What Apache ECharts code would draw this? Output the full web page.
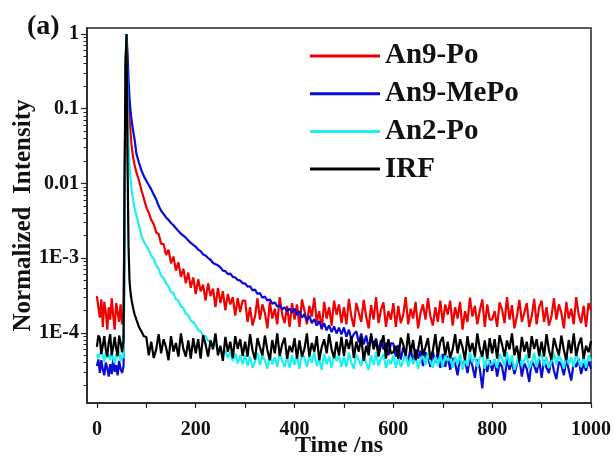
<!DOCTYPE html>
<html>
<head>
<meta charset="utf-8">
<script src="https://cdn.jsdelivr.net/npm/echarts@6/dist/echarts.min.js"></script>
<style>html,body{margin:0;padding:0;background:#fff;}#c{width:614px;height:457px;}</style>
</head>
<body>
<div id="c"></div>
<script>
// ---- data: time (ns) and normalized intensity per sample ----
const timeNs = [
  0,3,6,9,12,15,18,21,24,27,30,33,36,39,42,45,48,51,54,
  56,58,60,62,64,66,68,70,73,76,80,85,90,95,
  100,105,110,115,120,125,130,135,140,145,150,155,160,165,170,175,180,185,190,195,
  200,205,210,215,220,225,230,235,240,245,250,255,260,265,270,275,280,285,290,295,
  300,305,310,315,320,325,330,335,340,345,350,355,360,365,370,375,380,385,390,395,
  400,405,410,415,420,425,430,435,440,445,450,455,460,465,470,475,480,485,490,495,
  500,505,510,515,520,525,530,535,540,545,550,555,560,565,570,575,580,585,590,595,
  600,605,610,615,620,625,630,635,640,645,650,655,660,665,670,675,680,685,690,695,
  700,705,710,715,720,725,730,735,740,745,750,755,760,765,770,775,780,785,790,795,
  800,805,810,815,820,825,830,835,840,845,850,855,860,865,870,875,880,885,890,895,
  900,905,910,915,920,925,930,935,940,945,950,955,960,965,970,975,980,985,990,995,
  1000
];
const an9Po = [
  3.1e-4,2.2e-4,1.6e-4,2.8e-4,1.2e-4,2.6e-4,1.9e-4,1.1e-4,2.2e-4,1.5e-4,2.9e-4,1.7e-4,1.1e-4,2.5e-4,1.9e-4,1.4e-4,2.4e-4,1.3e-4,1.8e-4,
  4e-3,0.35,0.97,0.3,0.12,0.07,0.05,0.033,0.023,0.018,0.014,0.011,0.0082,0.0063,
  4.8e-3,4.05e-3,3.25e-3,2.85e-3,2.2e-3,2.1e-3,1.55e-3,1.55e-3,1.1e-3,1.3e-3,8.5e-4,1.05e-3,6.8e-4,8.8e-4,5.6e-4,7.2e-4,4.6e-4,6.4e-4,4.0e-4,5.5e-4,
  3.3e-4,5.2e-4,3.6e-4,4.4e-4,2.7e-4,4.6e-4,3.1e-4,3.9e-4,2.2e-4,4.0e-4,2.5e-4,3.6e-4,2.0e-4,3.3e-4,2.4e-4,3.0e-4,1.7e-4,2.9e-4,1.9e-4,2.7e-4,
  2.7e-4,1.4e-4,2.2e-4,1.25e-4,1.65e-4,2.9e-4,1.5e-4,2.4e-4,1.85e-4,1.15e-4,2.6e-4,1.55e-4,2.1e-4,1.3e-4,3.0e-4,1.75e-4,1.35e-4,2.3e-4,1.2e-4,2.5e-4,
  1.5e-4,2.4e-4,1.2e-4,2.8e-4,2.0e-4,1.3e-4,2.3e-4,1.65e-4,2.95e-4,1.4e-4,1.95e-4,1.1e-4,2.6e-4,1.55e-4,2.2e-4,1.25e-4,2.7e-4,1.75e-4,2.4e-4,1.35e-4,
  2.2e-4,1.3e-4,2.85e-4,1.65e-4,1.2e-4,2.5e-4,1.85e-4,1.4e-4,2.75e-4,1.65e-4,1.15e-4,2.35e-4,1.5e-4,3.0e-4,1.35e-4,2.05e-4,2.55e-4,1.2e-4,1.95e-4,1.5e-4,
  2.5e-4,1.2e-4,2.3e-4,1.35e-4,1.75e-4,3.0e-4,1.3e-4,2.1e-4,1.55e-4,2.6e-4,1.15e-4,1.85e-4,2.4e-4,1.5e-4,2.9e-4,1.65e-4,1.25e-4,2.2e-4,1.4e-4,2.7e-4,
  1.35e-4,2.4e-4,1.75e-4,2.7e-4,1.25e-4,2.2e-4,1.55e-4,2.6e-4,1.1e-4,1.95e-4,1.4e-4,2.95e-4,1.65e-4,2.3e-4,1.3e-4,2.0e-4,2.8e-4,1.2e-4,2.4e-4,1.5e-4,
  1.5e-4,1.95e-4,1.2e-4,2.55e-4,2.05e-4,1.35e-4,3.0e-4,1.5e-4,2.35e-4,1.15e-4,1.65e-4,2.75e-4,1.4e-4,1.85e-4,2.5e-4,1.2e-4,1.65e-4,2.85e-4,1.3e-4,2.2e-4,
  2.7e-4,1.4e-4,2.2e-4,1.25e-4,1.65e-4,2.9e-4,1.5e-4,2.4e-4,1.85e-4,1.15e-4,2.6e-4,1.55e-4,2.1e-4,1.3e-4,3.0e-4,1.75e-4,1.35e-4,2.3e-4,1.2e-4,2.5e-4,
  2.0e-4
];
const an9MePo = [
  3.6e-5,4.4e-5,2.9e-5,4.3e-5,3.2e-5,2.7e-5,4.0e-5,3.4e-5,2.6e-5,3.8e-5,2.8e-5,4.4e-5,3.0e-5,3.7e-5,2.7e-5,4.2e-5,3.3e-5,2.9e-5,3.6e-5,
  2e-3,0.3,0.98,0.55,0.25,0.14,0.095,0.072,0.052,0.04,0.025,0.019,0.015,0.0125,
  1.08e-2,9.5e-3,8.3e-3,7.1e-3,6.1e-3,5.0e-3,4.3e-3,3.9e-3,3.5e-3,3.25e-3,2.95e-3,2.75e-3,2.5e-3,2.3e-3,2.12e-3,2.0e-3,1.88e-3,1.72e-3,1.6e-3,1.5e-3,
  1.42e-3,1.3e-3,1.24e-3,1.12e-3,1.08e-3,1.0e-3,9.5e-4,8.6e-4,8.3e-4,8.0e-4,7.5e-4,6.8e-4,6.7e-4,6.1e-4,6.2e-4,5.6e-4,5.5e-4,5.1e-4,5.0e-4,4.6e-4,
  4.6e-4,4.15e-4,4.2e-4,3.7e-4,3.8e-4,3.3e-4,3.4e-4,2.95e-4,3.05e-4,2.7e-4,2.8e-4,2.45e-4,2.55e-4,2.25e-4,2.35e-4,2.05e-4,2.2e-4,1.95e-4,2.1e-4,1.88e-4,
  2.1e-4,1.72e-4,1.95e-4,1.6e-4,1.78e-4,1.45e-4,1.68e-4,1.35e-4,1.52e-4,1.25e-4,1.44e-4,1.15e-4,1.34e-4,1.08e-4,1.26e-4,1.02e-4,1.22e-4,9.8e-5,1.17e-4,9.5e-5,
  1.18e-4,8.8e-5,1.1e-4,8.2e-5,9.6e-5,1.05e-4,7.4e-5,9.8e-5,7.0e-5,9.2e-5,6.2e-5,9.0e-5,6.8e-5,8.4e-5,5.6e-5,8.0e-5,6.0e-5,7.4e-5,5.0e-5,7.2e-5,
  7.2e-5,4.8e-5,6.9e-5,4.4e-5,6.4e-5,5.0e-5,4.2e-5,6.3e-5,3.9e-5,6.0e-5,4.5e-5,5.8e-5,3.6e-5,5.5e-5,4.8e-5,3.5e-5,5.6e-5,4.0e-5,5.4e-5,3.4e-5,
  5.2e-5,3.5e-5,4.9e-5,3.2e-5,4.6e-5,3.9e-5,2.7e-5,4.8e-5,3.4e-5,4.4e-5,2.9e-5,4.6e-5,3.6e-5,2.5e-5,4.4e-5,3.3e-5,1.8e-5,4.1e-5,3.0e-5,4.3e-5,
  3.1e-5,4.4e-5,2.6e-5,4.0e-5,3.5e-5,2.3e-5,4.5e-5,3.2e-5,4.1e-5,2.8e-5,3.8e-5,4.6e-5,2.6e-5,3.9e-5,3.3e-5,2.2e-5,4.2e-5,3.6e-5,2.9e-5,4.4e-5,
  2.5e-5,4.3e-5,3.4e-5,2.9e-5,4.6e-5,3.1e-5,2.4e-5,4.1e-5,3.7e-5,2.7e-5,4.4e-5,3.2e-5,2.3e-5,4.0e-5,3.5e-5,4.5e-5,2.8e-5,3.9e-5,3.1e-5,4.2e-5,
  3.3e-5
];
const an2Po = [
  5.2e-5,4.6e-5,4.4e-5,5.8e-5,4.8e-5,4.1e-5,5.5e-5,4.6e-5,5.1e-5,4.3e-5,5.6e-5,4.5e-5,3.9e-5,5.3e-5,4.7e-5,5.6e-5,4.2e-5,5.0e-5,4.6e-5,
  1.5e-3,0.3,1.0,0.12,0.035,0.017,0.012,0.0085,0.0062,0.0048,0.0037,0.0028,0.002,0.00165,
  1.45e-3,1.3e-3,1.08e-3,9.8e-4,8.0e-4,7.2e-4,5.8e-4,5.4e-4,4.6e-4,4.2e-4,3.5e-4,3.4e-4,2.8e-4,2.7e-4,2.25e-4,2.15e-4,1.8e-4,1.72e-4,1.45e-4,1.4e-4,
  1.25e-4,1.08e-4,1.04e-4,9.2e-5,9.0e-5,7.8e-5,7.9e-5,6.8e-5,7.0e-5,5.9e-5,6.3e-5,5.2e-5,5.8e-5,4.6e-5,5.5e-5,4.2e-5,5.3e-5,3.9e-5,5.0e-5,3.8e-5,
  5.1e-5,3.6e-5,4.8e-5,3.4e-5,4.1e-5,5.4e-5,3.7e-5,5.0e-5,4.3e-5,3.3e-5,5.2e-5,3.8e-5,4.7e-5,3.5e-5,5.5e-5,4.2e-5,3.5e-5,4.9e-5,3.4e-5,5.0e-5,
  3.7e-5,5.0e-5,3.3e-5,5.3e-5,4.6e-5,3.5e-5,4.9e-5,4.0e-5,5.5e-5,3.6e-5,4.4e-5,3.2e-5,5.2e-5,3.8e-5,4.8e-5,3.4e-5,5.2e-5,4.2e-5,5.0e-5,3.5e-5,
  4.8e-5,3.5e-5,5.4e-5,4.0e-5,3.3e-5,5.1e-5,4.3e-5,3.6e-5,5.3e-5,4.0e-5,3.2e-5,5.0e-5,3.7e-5,5.5e-5,3.6e-5,4.5e-5,5.2e-5,3.4e-5,4.4e-5,3.8e-5,
  5.0e-5,3.4e-5,4.9e-5,3.5e-5,4.2e-5,5.5e-5,3.5e-5,4.7e-5,3.8e-5,5.2e-5,3.3e-5,4.3e-5,5.0e-5,3.7e-5,5.4e-5,4.1e-5,3.4e-5,4.8e-5,3.6e-5,5.1e-5,
  3.5e-5,5.0e-5,4.2e-5,5.2e-5,3.4e-5,4.8e-5,3.8e-5,5.2e-5,3.2e-5,4.4e-5,3.6e-5,5.5e-5,4.0e-5,4.9e-5,3.5e-5,4.6e-5,5.3e-5,3.3e-5,5.0e-5,3.7e-5,
  3.8e-5,4.4e-5,3.4e-5,5.2e-5,4.5e-5,3.6e-5,5.5e-5,3.7e-5,5.0e-5,3.2e-5,4.0e-5,5.3e-5,3.6e-5,4.3e-5,5.1e-5,3.3e-5,4.0e-5,5.4e-5,3.5e-5,4.8e-5,
  5.1e-5,3.6e-5,4.8e-5,3.4e-5,4.1e-5,5.4e-5,3.7e-5,5.0e-5,4.3e-5,3.3e-5,5.2e-5,3.8e-5,4.7e-5,3.5e-5,5.5e-5,4.2e-5,3.5e-5,4.9e-5,3.4e-5,5.0e-5,
  4.2e-5
];
const irf = [
  6.5e-5,9.2e-5,8.5e-5,5.2e-5,6.8e-5,9.0e-5,6.0e-5,4.8e-5,7.5e-5,9.6e-5,5.0e-5,6.4e-5,8.8e-5,6.2e-5,4.9e-5,9.2e-5,7.4e-5,5.5e-5,8.0e-5,
  0.01,0.4,1.0,0.02,1.5e-3,5e-4,3.5e-4,2.8e-4,2.2e-4,1.8e-4,1.5e-4,1.2e-4,1.05e-4,9e-5,
  8.8e-5,5.0e-5,7.6e-5,4.6e-5,6.0e-5,9.6e-5,5.3e-5,8.2e-5,6.4e-5,4.3e-5,9.0e-5,5.6e-5,7.3e-5,4.8e-5,9.8e-5,6.1e-5,4.8e-5,7.9e-5,4.5e-5,8.5e-5,
  5.3e-5,8.2e-5,4.5e-5,9.3e-5,7.0e-5,4.8e-5,7.9e-5,6.0e-5,9.8e-5,5.0e-5,6.7e-5,4.2e-5,8.8e-5,5.6e-5,7.6e-5,4.6e-5,9.0e-5,6.1e-5,8.2e-5,4.9e-5,
  7.6e-5,4.8e-5,9.6e-5,5.8e-5,4.4e-5,8.5e-5,6.4e-5,5.0e-5,9.2e-5,5.9e-5,4.3e-5,8.0e-5,5.3e-5,9.8e-5,4.9e-5,7.0e-5,8.6e-5,4.5e-5,6.7e-5,5.5e-5,
  8.5e-5,4.5e-5,7.9e-5,4.8e-5,6.1e-5,9.8e-5,4.8e-5,7.3e-5,5.6e-5,9.0e-5,4.3e-5,6.4e-5,8.2e-5,5.3e-5,9.6e-5,6.0e-5,4.6e-5,7.6e-5,5.0e-5,8.8e-5,
  4.9e-5,8.2e-5,6.1e-5,9.0e-5,4.6e-5,7.6e-5,5.6e-5,8.8e-5,4.2e-5,6.7e-5,5.0e-5,9.8e-5,6.0e-5,7.9e-5,4.8e-5,7.0e-5,9.3e-5,4.5e-5,8.2e-5,5.3e-5,
  5.5e-5,6.7e-5,4.5e-5,8.6e-5,7.0e-5,4.9e-5,9.8e-5,5.3e-5,8.0e-5,4.3e-5,5.9e-5,9.2e-5,5.0e-5,6.4e-5,8.5e-5,4.4e-5,5.8e-5,9.6e-5,4.8e-5,7.6e-5,
  8.8e-5,5.0e-5,7.6e-5,4.6e-5,6.0e-5,9.6e-5,5.3e-5,8.2e-5,6.4e-5,4.3e-5,9.0e-5,5.6e-5,7.3e-5,4.8e-5,9.8e-5,6.1e-5,4.8e-5,7.9e-5,4.5e-5,8.5e-5,
  5.3e-5,8.2e-5,4.5e-5,9.3e-5,7.0e-5,4.8e-5,7.9e-5,6.0e-5,9.8e-5,5.0e-5,6.7e-5,4.2e-5,8.8e-5,5.6e-5,7.6e-5,4.6e-5,9.0e-5,6.1e-5,8.2e-5,4.9e-5,
  7.6e-5,4.8e-5,9.6e-5,5.8e-5,4.4e-5,8.5e-5,6.4e-5,5.0e-5,9.2e-5,5.9e-5,4.3e-5,8.0e-5,5.3e-5,9.8e-5,4.9e-5,7.0e-5,8.6e-5,4.5e-5,6.7e-5,5.5e-5,
  7.7e-5
];
const seriesNames = ['An9-Po','An9-MePo','An2-Po','IRF'];
const seriesColors = ['#f00000','#0a0ad8','#1ef0f0','#000000'];
const xTickValues = [0,100,200,300,400,500,600,700,800,900,1000];
const xLabelValues = [0,200,400,600,800,1000];
const yTickValues = [1e-4,1e-3,0.01,0.1,1];
const yTickLabels = ['1E-4','1E-3','0.01','0.1','1'];
const yMinorTicks = [
  2e-5,3e-5,4e-5,5e-5,6e-5,7e-5,8e-5,9e-5,
  2e-4,3e-4,4e-4,5e-4,6e-4,7e-4,8e-4,9e-4,
  2e-3,3e-3,4e-3,5e-3,6e-3,7e-3,8e-3,9e-3,
  0.02,0.03,0.04,0.05,0.06,0.07,0.08,0.09,
  0.2,0.3,0.4,0.5,0.6,0.7,0.8,0.9
];

const valueSets = [an9Po, an9MePo, an2Po, irf];
const FONT = 'Liberation Serif';
const bad = valueSets.map((v, i) => v.length !== timeNs.length ? seriesNames[i] + ':' + v.length + '/' + timeNs.length : '').filter(Boolean).join(' ');

const chart = echarts.init(document.getElementById('c'), null, {renderer: 'canvas'});
const yMin = 1.15e-5, yMax = 1.2;
function yFmt(v) {
  const i = yTickValues.findIndex(t => Math.abs(Math.log10(t) - Math.log10(v)) < 0.01);
  return i >= 0 ? yTickLabels[i] : '';
}
const graphics = [{type: 'text', left: 27, top: 13, style: {text: '(a)', font: 'bold 28px "Liberation Serif"', fill: '#111'}}];
if (bad) graphics.push({type: 'text', left: 200, top: 200, style: {text: bad, font: '14px sans-serif', fill: '#f0f'}});
chart.setOption({
  animation: false,
  backgroundColor: '#fff',
  grid: {left: 87, right: 23, top: 28, bottom: 54, show: true, borderColor: '#222', borderWidth: 1.5, backgroundColor: 'transparent', containLabel: false, outerBoundsMode: 'none'},
  graphic: graphics,
  legend: {
    orient: 'vertical', left: 310, top: 41, padding: 0, itemWidth: 70, itemHeight: 3, itemGap: 7.7,
    icon: 'rect', data: seriesNames,
    textStyle: {fontFamily: FONT, fontWeight: 'bold', fontSize: 29, lineHeight: 30, color: '#111'}
  },
  xAxis: {
    type: 'value', min: -20, max: 1000,
    name: 'Time /ns', nameLocation: 'middle', nameGap: 31, nameMoveOverlap: false,
    nameTextStyle: {fontFamily: FONT, fontWeight: 'bold', fontSize: 24, color: '#111'},
    axisLine: {show: true, onZero: false, lineStyle: {color: '#222', width: 1.5}},
    axisTick: {show: true, inside: false, length: 5, customValues: xTickValues, lineStyle: {color: '#222', width: 1.2}},
    axisLabel: {customValues: xLabelValues, formatter: v => String(v), margin: 17, fontFamily: FONT, fontWeight: 'bold', fontSize: 20, color: '#111'},
    splitLine: {show: false}
  },
  yAxis: [{
    type: 'log', logBase: 10, min: yMin, max: yMax,
    name: 'Normalized  Intensity', nameLocation: 'middle', nameGap: 51, nameRotate: 90, nameMoveOverlap: false,
    nameTextStyle: {fontFamily: FONT, fontWeight: 'bold', fontSize: 25, color: '#111'},
    axisLine: {show: true, onZero: false, lineStyle: {color: '#222', width: 1.5}},
    axisTick: {show: true, inside: false, length: 6, customValues: yTickValues, lineStyle: {color: '#222', width: 1.2}},
    axisLabel: {customValues: yTickValues, formatter: yFmt, margin: 8, fontFamily: FONT, fontWeight: 'bold', fontSize: 20, color: '#111'},
    splitLine: {show: false}
  }, {
    type: 'log', logBase: 10, min: yMin, max: yMax, position: 'left',
    axisLine: {show: false, onZero: false},
    axisTick: {show: true, inside: false, length: 3.5, customValues: yMinorTicks, lineStyle: {color: '#222', width: 1}},
    axisLabel: {show: false},
    splitLine: {show: false}
  }],
  series: seriesNames.map((n, i) => ({
    name: n, type: 'line', yAxisIndex: 0, showSymbol: false, symbol: 'none',
    color: seriesColors[i],
    lineStyle: {width: 2.2, color: seriesColors[i]},
    data: timeNs.map((t, j) => [t, valueSets[i][j]])
  }))
});
</script>
</body>
</html>
